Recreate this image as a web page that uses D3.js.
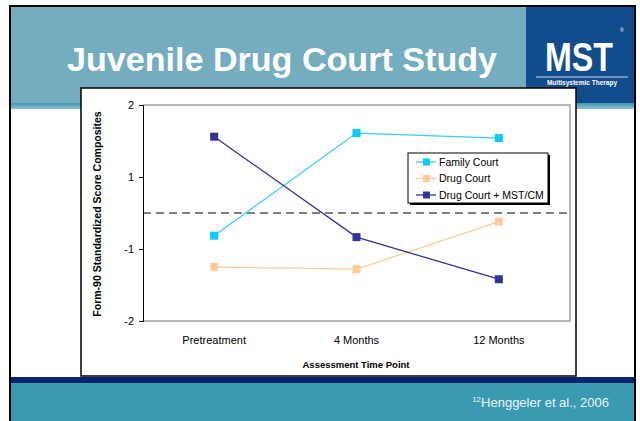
<!DOCTYPE html>
<html>
<head>
<meta charset="utf-8">
<script src="https://cdn.jsdelivr.net/npm/d3@7"></script>
<style>
  body { margin: 0; background: #fff; }
  text { font-family: "Liberation Sans", Arial, sans-serif; }
</style>
</head>
<body>
<svg id="canvas" width="640" height="421"></svg>
<script>
// chart data
var timePoints = ["Pretreatment", "4 Months", "12 Months"];
var seriesNames = ["Family Court", "Drug Court", "Drug Court + MST/CM"];
var familyCourt = [-0.63, 1.61, 1.54];
var drugCourt = [-1.25, -1.28, -0.24];
var drugCourtMst = [1.56, -0.67, -1.42];
var yTicks = [-2, -1, 1, 2];

var seriesColors = ["#33CCFF", "#FFCC99", "#333399"];
var markerColors = ["#00CCFF", "#FFCC99", "#333399"];

var svg = d3.select("#canvas");

// slide background
svg.append("rect").attr("x", 10).attr("y", 6).attr("width", 625).attr("height", 420)
  .attr("fill", "#fff").attr("stroke", "#000").attr("stroke-width", 2);
svg.append("rect").attr("x", 11).attr("y", 7).attr("width", 623).attr("height", 96)
  .attr("fill", "#74ADC0");

var grad = svg.append("defs").append("linearGradient")
  .attr("id", "stripe").attr("x1", 0).attr("y1", 0).attr("x2", 0).attr("y2", 1);
grad.append("stop").attr("offset", "0%").attr("stop-color", "#3E9AB0");
grad.append("stop").attr("offset", "100%").attr("stop-color", "#8CC3D2");
svg.append("rect").attr("x", 11).attr("y", 103).attr("width", 623).attr("height", 6)
  .attr("fill", "url(#stripe)");

// logo
svg.append("rect").attr("x", 526).attr("y", 7).attr("width", 108).attr("height", 96)
  .attr("fill", "#114C8C");
svg.append("text").attr("x", 579).attr("y", 71).attr("text-anchor", "middle")
  .attr("fill", "#fff").attr("font-weight", "bold").attr("font-size", 40)
  .attr("textLength", 68).attr("lengthAdjust", "spacingAndGlyphs").text("MST");
svg.append("text").attr("x", 620).attr("y", 32).attr("fill", "#fff").attr("font-size", 5).text("®");
svg.append("line").attr("x1", 536).attr("x2", 628).attr("y1", 77).attr("y2", 77)
  .attr("stroke", "#fff").attr("stroke-width", 0.8);
svg.append("text").attr("x", 582).attr("y", 85).attr("text-anchor", "middle")
  .attr("fill", "#fff").attr("font-weight", "bold").attr("font-size", 6.5)
  .text("Multisystemic Therapy");

// title
svg.append("text").attr("x", 67).attr("y", 71)
  .attr("fill", "#fff").attr("font-weight", "bold").attr("font-size", 33)
  .attr("textLength", 430).attr("lengthAdjust", "spacingAndGlyphs")
  .text("Juvenile Drug Court Study");

// footer
svg.append("rect").attr("x", 11).attr("y", 377).attr("width", 623).attr("height", 6)
  .attr("fill", "#06246E");
svg.append("rect").attr("x", 11).attr("y", 383).attr("width", 623).attr("height", 40)
  .attr("fill", "#3A9AB2");
var foot = svg.append("text").attr("x", 609).attr("y", 407).attr("text-anchor", "end")
  .attr("fill", "#EAF6FA").attr("font-size", 13);
foot.append("tspan").attr("font-size", 8).attr("dy", -5).text("12");
foot.append("tspan").attr("dy", 5).text("Henggeler et al., 2006");

// chart box
svg.append("rect").attr("x", 81).attr("y", 88).attr("width", 495).attr("height", 288)
  .attr("fill", "#fff").attr("stroke", "#000").attr("stroke-width", 1.5);

var margin = {left: 143, right: 570, top: 105, bottom: 321};

var x = d3.scaleBand().domain(timePoints).range([margin.left, margin.right]);

// axis has equal spacing for 2,1,-1,-2 with 0 at the middle
var y = d3.scaleLinear().domain([-2, -1, 1, 2])
  .range([margin.bottom, margin.bottom - 72, margin.top + 72, margin.top]);

var g = svg.append("g");

// plot border
g.append("path")
  .attr("d", "M" + margin.left + "," + margin.top + "H" + margin.right + "V" + margin.bottom + "H" + margin.left)
  .attr("fill", "none").attr("stroke", "#A0A0A0").attr("stroke-width", 1.5);

// zero line
g.append("line").attr("x1", margin.left).attr("x2", margin.right)
  .attr("y1", y(0)).attr("y2", y(0))
  .attr("stroke", "#000").attr("stroke-dasharray", "8,5");

var yAxis = g.append("g").attr("transform", "translate(" + margin.left + ",0)")
  .call(d3.axisLeft(y).tickValues(yTicks).tickSize(4).tickFormat(function(d) { return String(d); }));
yAxis.select(".domain").attr("stroke", "#000");
yAxis.selectAll("text").attr("font-size", 11).attr("fill", "#000")
  .style("font-family", "Liberation Sans, Arial, sans-serif").attr("dx", -2);

g.selectAll(".xlab").data(timePoints).enter().append("text")
  .attr("x", function(d) { return x(d) + x.bandwidth() / 2; })
  .attr("y", 344).attr("text-anchor", "middle").attr("font-size", 11)
  .text(function(d) { return d; });

g.append("text").attr("x", 356).attr("y", 368).attr("text-anchor", "middle")
  .attr("font-size", 9.5).attr("font-weight", "bold").text("Assessment Time Point");

g.append("text").attr("transform", "translate(101,214) rotate(-90)")
  .attr("text-anchor", "middle").attr("font-size", 10.5).attr("font-weight", "bold")
  .text("Form-90 Standardized Score Composites");

// series
var allSeries = [familyCourt, drugCourt, drugCourtMst];
var line = d3.line()
  .x(function(d, i) { return x(timePoints[i]) + x.bandwidth() / 2; })
  .y(function(d) { return y(d); });

allSeries.forEach(function(vals, s) {
  g.append("path").datum(vals).attr("d", line)
    .attr("fill", "none").attr("stroke", seriesColors[s]).attr("stroke-width", 1.3);
  g.selectAll(".m" + s).data(vals).enter().append("rect")
    .attr("x", function(d, i) { return x(timePoints[i]) + x.bandwidth() / 2 - 4; })
    .attr("y", function(d) { return y(d) - 4; })
    .attr("width", 8).attr("height", 8)
    .attr("fill", markerColors[s]);
});

// legend
var lg = svg.append("g").attr("transform", "translate(408,153)");
lg.append("rect").attr("x", 2).attr("y", 2).attr("width", 140).attr("height", 50).attr("fill", "#000");
lg.append("rect").attr("width", 140).attr("height", 50).attr("fill", "#fff")
  .attr("stroke", "#000").attr("stroke-width", 1);
seriesNames.forEach(function(name, s) {
  var yy = 9 + s * 16.5;
  lg.append("line").attr("x1", 8).attr("x2", 28).attr("y1", yy).attr("y2", yy)
    .attr("stroke", seriesColors[s]).attr("stroke-width", 1.3);
  lg.append("rect").attr("x", 15).attr("y", yy - 3.5).attr("width", 7).attr("height", 7)
    .attr("fill", markerColors[s]);
  lg.append("text").attr("x", 31).attr("y", yy + 3.8).attr("font-size", 10.5).text(name);
});
</script>
</body>
</html>
